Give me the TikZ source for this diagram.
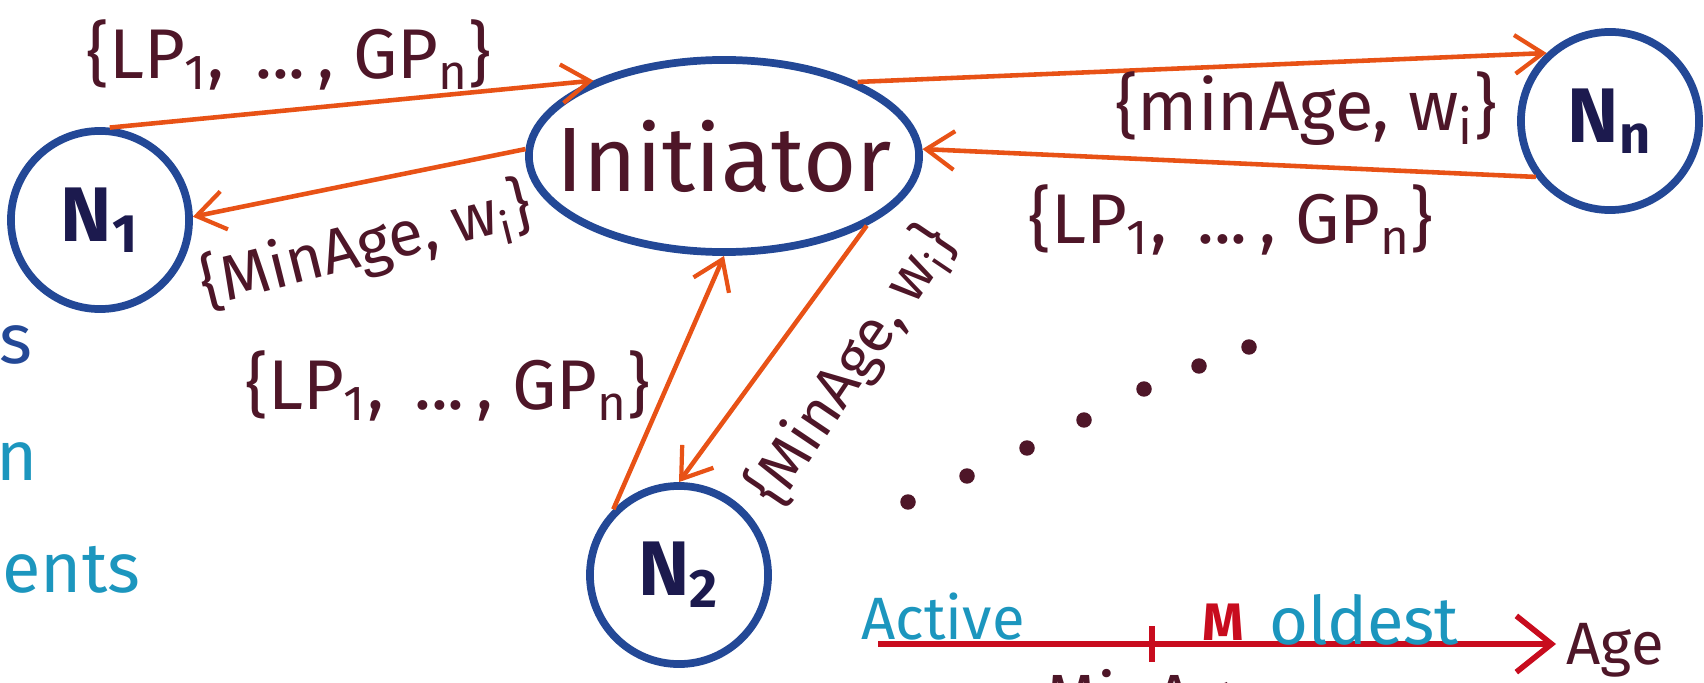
\documentclass[tikz,border=0pt]{standalone}
\usepackage{fontspec}
\setmainfont{Fira Sans}
\usepackage{xcolor}
\usepackage{tikz}
\usetikzlibrary{shapes.geometric, arrows.meta, positioning}
\definecolor{nodeblue}{RGB}{35, 72, 150}
\definecolor{msgorange}{RGB}{232, 82, 22}
\definecolor{inkmaroon}{RGB}{78, 22, 40}
\definecolor{inknavy}{RGB}{28, 26, 78}
\definecolor{axisred}{RGB}{200, 12, 30}
\definecolor{notecyan}{RGB}{28, 150, 190}
\newcommand{\lpset}{\{LP\textsubscript{1}, \,...\,, GP\textsubscript{n}\}}
\newcommand{\ageset}[1]{\{#1inAge, w\textsubscript{i}\}}

\begin{document}
\begin{tikzpicture}[x=0.01cm, y=-0.01cm,
	peer/.style={circle, draw=nodeblue, line width=2.2pt, minimum size=1.78cm, inner sep=0pt, text=inknavy, font=\fontsize{22}{24}\selectfont\bfseries},
	initbox/.style={ellipse, draw=nodeblue, line width=2.2pt, minimum width=3.9cm, minimum height=1.92cm, inner sep=0pt},
	initlabel/.style={text=inkmaroon, font=\fontsize{26}{28}\selectfont, inner sep=0pt},
	msg/.style={text=inkmaroon, font=\fontsize{20}{22}\selectfont, inner sep=1pt},
	arrow/.style={-{Straight Barb[length=8pt, width=11pt, line width=1.2pt]}, line width=1.3pt, draw=msgorange},
	note/.style={font=\fontsize{17}{19}\selectfont, inner sep=0pt}
	]
	\useasboundingbox (0,0) rectangle (1704,682);
	\clip (0,0) rectangle (1704,682);
	
	% Nodes
	\node[initbox, label={[initlabel]center:Initiator}] (init) at (724, 156) {};
	\node[peer] (n1) at (100, 220) {N\textsubscript{1}};
	\node[peer] (n2) at (679, 575) {N\textsubscript{2}};
	\node[peer] (nn) at (1610, 121) {N\textsubscript{n}};
	
	% Messages
	\draw[arrow] (n1.84) -- (init.150);
	\draw[arrow] (init.178) -- (n1.2);
	\draw[arrow] (init.29) -- (nn.133);
	\draw[arrow] (nn.217) -- (init.2);
	\draw[arrow] (n2.135) -- (init.270);
	\draw[arrow] (init.334) -- (n2.90);
	
	% Message labels
	\node[msg] (lp1) at (289, 55) {\lpset};
	\node[msg, rotate=14, font=\fontsize{18}{20}\selectfont] (age1) at (366, 246) {\ageset{M}};
	\node[msg] (agen) at (1306, 109) {\ageset{m}};
	\node[msg] (lpn) at (1231, 220) {\lpset};
	\node[msg] (lp2) at (448, 386) {\lpset};
	\node[msg, rotate=56, font=\fontsize{17}{19}\selectfont] (age2) at (852, 366) {\ageset{M}};
	
	% More peers
	\foreach \p in {(908,502), (967,476), (1027,448), (1084,420), (1144,389), (1199,366), (1249,347)}
		\fill[inkmaroon] \p circle (2.2pt);
	
	% Age axis
	\coordinate (axstart) at (878, 644);
	\coordinate (axend) at (1556, 644);
	\draw[axisred, line width=1.6pt, -{Straight Barb[length=10pt, width=16pt, line width=1.6pt]}] (axstart) -- (axend);
	\draw[axisred, line width=1.6pt] (1152, 626) -- (1152, 662);
	\node[note, text=notecyan] (active) at (943, 617) {Active};
	\node[note, text=axisred, font=\fontsize{15}{17}\selectfont\bfseries] (mark) at (1223, 622) {M};
	\node[note, text=notecyan, font=\fontsize{19}{21}\selectfont] (oldest) at (1364, 620) {oldest};
	\node[note, text=inkmaroon, anchor=west] (age) at (1566, 650) {Age};
	\node[note, text=inkmaroon, font=\fontsize{19}{21}\selectfont] (minage) at (1155, 703) {MinAge};
	
	% Cut-off notes on the left
	\node[note, text=nodeblue, anchor=east, font=\fontsize{20}{22}\selectfont] (cuts) at (33, 345) {s};
	\node[note, text=notecyan, anchor=east, font=\fontsize{20}{22}\selectfont] (cutn) at (38, 462) {n};
	\node[note, text=notecyan, anchor=east, font=\fontsize{20}{22}\selectfont] (cutents) at (141, 570) {ents};
\end{tikzpicture}
\end{document}
